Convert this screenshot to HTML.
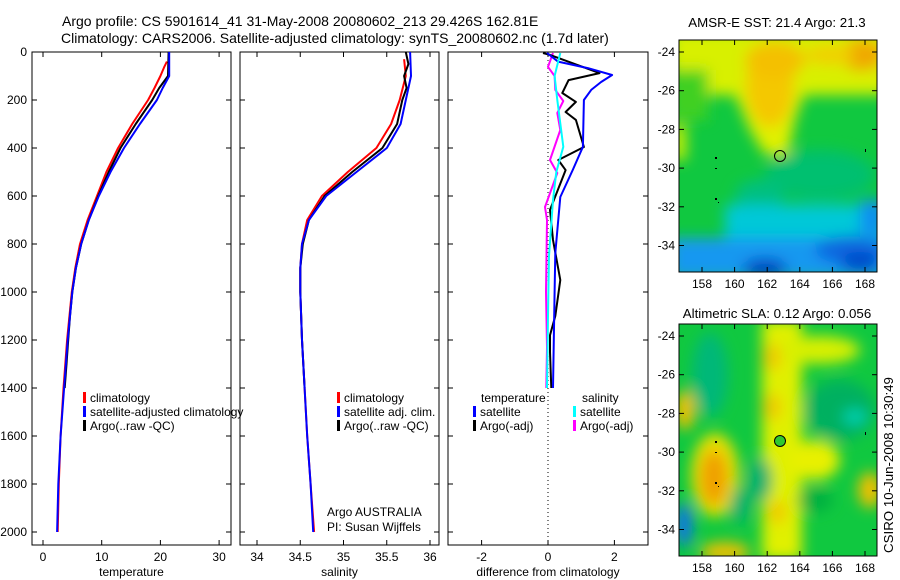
<!DOCTYPE html>
<html><head><meta charset="utf-8"><style>
html,body{margin:0;padding:0;background:#fff;}
svg{display:block;font-family:"Liberation Sans",sans-serif;}
text{font-size:12px;fill:#000;}
.big{font-size:14px;}
.mt{font-size:13.3px;}
</style></head><body>
<svg id="fig" width="900" height="580" viewBox="0 0 900 580">
<defs>
<filter id="blur1" x="-20%" y="-20%" width="140%" height="140%"><feGaussianBlur stdDeviation="7"/></filter>
<clipPath id="clipMap1"><rect x="679" y="40" width="198" height="232"/></clipPath>
<clipPath id="clipMap2"><rect x="679" y="324" width="198" height="232"/></clipPath>
</defs>
<text class="big" x="62" y="26">Argo profile: CS 5901614_41 31-May-2008 20080602_213 29.426S 162.81E</text>
<text class="big" x="61" y="43">Climatology: CARS2006. Satellite-adjusted climatology: synTS_20080602.nc (1.7d later)</text>

<!-- Map 1: SST -->
<g clip-path="url(#clipMap1)">
<rect x="679" y="40" width="198" height="232" fill="#10c840"/>
<g filter="url(#blur1)">
<rect x="670" y="30" width="220" height="65" fill="#d8f000"/>
<polygon points="700,90 735,95 750,130 765,155 788,155 795,120 805,92" fill="#e0f000"/>
<rect x="670" y="70" width="38" height="50" fill="#40d020"/>
<ellipse cx="770" cy="85" rx="24" ry="42" fill="#f4c800"/>
<ellipse cx="775" cy="60" rx="30" ry="18" fill="#f4c000"/>
<ellipse cx="862" cy="55" rx="22" ry="16" fill="#f0a800"/>
<ellipse cx="830" cy="55" rx="25" ry="10" fill="#f0d000"/>
<rect x="672" y="125" width="14" height="35" fill="#d0f000"/>
<ellipse cx="820" cy="175" rx="55" ry="25" fill="#00c070"/>
<ellipse cx="760" cy="195" rx="25" ry="15" fill="#00c080"/>
<rect x="725" y="205" width="160" height="35" fill="#00c8d8"/>
<rect x="670" y="238" width="220" height="40" fill="#1898f0"/>
<ellipse cx="765" cy="268" rx="22" ry="9" fill="#0040c0"/>
<ellipse cx="850" cy="250" rx="35" ry="14" fill="#0868e0"/>
<ellipse cx="860" cy="262" rx="20" ry="10" fill="#0048c8"/>
<rect x="860" y="200" width="25" height="35" fill="#1090f0"/>
</g>
<circle cx="780" cy="156" r="5.5" fill="none" stroke="#000" stroke-width="1"/>
<rect x="715" y="157" width="2" height="2" fill="#000"/>
<rect x="715" y="168" width="2" height="1" fill="#000"/>
<rect x="715" y="198" width="2" height="2" fill="#000"/>
<rect x="718" y="202" width="1" height="1" fill="#000"/>
<rect x="865" y="149" width="1" height="3" fill="#000"/>
</g>
<rect x="679" y="40" width="198" height="232" fill="none" stroke="#000"/>
<text class="mt" x="777" y="27" text-anchor="middle">AMSR-E SST: 21.4 Argo: 21.3</text>

<!-- Map 2: SLA -->
<g clip-path="url(#clipMap2)">
<rect x="679" y="324" width="198" height="232" fill="#10c840"/>
<g filter="url(#blur1)">
<rect x="762" y="320" width="40" height="240" fill="#e0f000"/>
<ellipse cx="772" cy="357" rx="9" ry="14" fill="#f0c800"/>
<ellipse cx="772" cy="407" rx="9" ry="14" fill="#f0c800"/>
<ellipse cx="777" cy="512" rx="9" ry="12" fill="#f0c800"/>
<ellipse cx="820" cy="350" rx="40" ry="14" fill="#d8f000"/>
<ellipse cx="815" cy="460" rx="25" ry="20" fill="#e8f000"/>
<ellipse cx="715" cy="475" rx="24" ry="42" fill="#e8e000"/>
<ellipse cx="714" cy="478" rx="14" ry="28" fill="#f0a000"/>
<ellipse cx="685" cy="410" rx="10" ry="20" fill="#f0c000"/>
<ellipse cx="870" cy="490" rx="12" ry="18" fill="#f0c000"/>
<ellipse cx="725" cy="552" rx="25" ry="10" fill="#f0c000"/>
<ellipse cx="710" cy="375" rx="18" ry="42" fill="#00b878"/>
<ellipse cx="840" cy="410" rx="35" ry="30" fill="#00b060"/>
<ellipse cx="855" cy="417" rx="12" ry="8" fill="#00d0b0"/>
<ellipse cx="760" cy="480" rx="12" ry="22" fill="#00b070"/>
<ellipse cx="740" cy="505" rx="10" ry="18" fill="#00b070"/>
<ellipse cx="815" cy="500" rx="18" ry="12" fill="#00b040"/>
<ellipse cx="684" cy="525" rx="8" ry="22" fill="#1070f0"/>
</g>
<circle cx="780" cy="441" r="5.5" fill="#30c830" stroke="#000" stroke-width="1"/>
<rect x="715" y="441" width="2" height="2" fill="#000"/>
<rect x="715" y="452" width="2" height="1" fill="#000"/>
<rect x="715" y="482" width="2" height="2" fill="#000"/>
<rect x="718" y="486" width="1" height="1" fill="#000"/>
<rect x="865" y="432" width="1" height="3" fill="#000"/>
</g>
<rect x="679" y="324" width="198" height="232" fill="none" stroke="#000"/>
<text class="mt" x="777" y="318" text-anchor="middle">Altimetric SLA: 0.12 Argo: 0.056</text>
<text class="mt" transform="translate(893,465) rotate(-90)" text-anchor="middle">CSIRO 10-Jun-2008 10:30:49</text>

<text x="327" y="516">Argo AUSTRALIA</text>
<text x="327" y="531">PI: Susan Wijffels</text>
</svg>
<script>
// ---- data ----
const depthTicks = [0,200,400,600,800,1000,1200,1400,1600,1800,2000];
const tempTicks = [0,10,20,30];
const salTicks = [34,34.5,35,35.5,36];
const salTickLabels = ["34","34.5","35","35.5","36"];
const diffTicks = [-2,0,2];

const tClimDepth = [40,60,100,150,200,300,400,500,600,700,800,900,1000,1200,1400,1600,1800,2000];
const tClimVal   = [21.1,20.7,20.0,19.0,17.9,15.2,12.8,10.8,9.2,7.6,6.3,5.5,4.9,4.1,3.5,3.0,2.7,2.5];
const tSatDepth  = [0,100,150,200,300,400,500,600,700,800,900,1000,1200,1400,1600,1800,2000];
const tSatVal    = [21.5,21.5,20.4,19.4,16.5,13.8,11.5,9.5,7.8,6.5,5.6,5.0,4.2,3.6,3.0,2.6,2.4];
const tArgoDepth = [0,100,150,200,300,400,500,600,700,800,900,1000,1100,1200,1300,1400];
const tArgoVal   = [21.4,21.3,19.8,18.6,15.8,13.2,11.2,9.4,7.8,6.5,5.6,5.0,4.6,4.3,4.0,3.7];

const sClimDepth = [30,100,200,300,400,500,600,700,800,900,1000,1200,1400,1600,1800,2000];
const sClimVal   = [35.70,35.72,35.65,35.55,35.38,35.05,34.75,34.58,34.52,34.50,34.50,34.52,34.55,34.58,34.62,34.66];
const sSatDepth  = [0,100,150,200,300,400,500,600,700,800,900,1000,1200,1400,1600,1800,2000];
const sSatVal    = [35.77,35.78,35.75,35.72,35.66,35.50,35.15,34.80,34.60,34.52,34.50,34.50,34.52,34.55,34.58,34.62,34.65];
const sArgoDepth = [0,50,100,150,200,300,400,500,600,700,800,900,1000,1200,1400];
const sArgoVal   = [35.72,35.75,35.70,35.73,35.68,35.62,35.45,35.10,34.78,34.60,34.53,34.50,34.50,34.52,34.55];

const dTSatDepth = [4,40,67,96,125,158,200,395,490,604,838,1000,1400];
const dTSatVal   = [-0.03,0.3,1.2,1.93,1.6,1.3,1.08,1.05,0.75,0.37,0.22,0.2,0.15];
const dTArgoDepth = [4,12,88,117,171,208,250,283,396,450,492,658,783,950,1100,1180,1250,1400];
const dTArgoVal   = [-0.15,0.06,1.55,0.62,0.43,0.84,0.53,0.84,1.08,0.31,0.53,0.06,0.15,0.37,0.22,0.06,0.06,0.1];
const dSSatDepth = [4,100,200,395,500,617,850,1100,1400];
const dSSatVal   = [0.37,0.2,0.28,0.46,0.25,0.15,0.03,0,-0.03];
const dSArgoDepth = [4,62,100,158,204,254,325,450,504,646,700,1000,1230,1400];
const dSArgoVal   = [0.15,0,0.2,0.22,0.46,0.28,0.37,0.06,0.28,-0.09,-0.03,-0.06,-0.03,-0.05];

const lonTicks = [158,160,162,164,166,168];
const latTicks = [-24,-26,-28,-30,-32,-34];

// ---- helpers ----
const NS = "http://www.w3.org/2000/svg";
const svg = document.getElementById("fig");
function mk(tag, attrs){ const e=document.createElementNS(NS,tag); for(const k in attrs) e.setAttribute(k,attrs[k]); return e; }
const yD = d => 52 + d*0.24;
const panels = [
  {x0:32, x1:231, fx:v=>43+v*5.87, ticks:tempTicks, labels:tempTicks.map(String), xlabel:"temperature", name:"temperature-panel"},
  {x0:240, x1:439, fx:v=>257+(v-34)*86.5, ticks:salTicks, labels:salTickLabels, xlabel:"salinity", name:"salinity-panel"},
  {x0:448, x1:648, fx:v=>548+v*33.2, ticks:diffTicks, labels:diffTicks.map(String), xlabel:"difference from climatology", name:"difference-panel"}
];
panels.forEach((p,i)=>{
  const g = mk("g",{});
  
  
  svg.appendChild(g);
  const frame = mk("rect",{x:p.x0,y:52,width:p.x1-p.x0,height:493,fill:"none",stroke:"#000"});
  
  
  g.appendChild(frame);
  depthTicks.forEach(d=>{
    const y=yD(d);
    g.appendChild(mk("line",{x1:p.x0,x2:p.x0+5,y1:y,y2:y,stroke:"#000"}));
    g.appendChild(mk("line",{x1:p.x1-5,x2:p.x1,y1:y,y2:y,stroke:"#000"}));
    if(i===0){
      const t=mk("text",{x:27,y:y+4,"text-anchor":"end"});
      t.textContent=String(d);
      
      
      svg.appendChild(t);
    }
  });
  p.ticks.forEach((v,k)=>{
    const x=p.fx(v);
    g.appendChild(mk("line",{x1:x,x2:x,y1:52,y2:57,stroke:"#000"}));
    g.appendChild(mk("line",{x1:x,x2:x,y1:540,y2:545,stroke:"#000"}));
    const t=mk("text",{x:x,y:561,"text-anchor":"middle"});
    t.textContent=p.labels[k];
    
    
    g.appendChild(t);
  });
  const xl=mk("text",{x:(p.x0+p.x1)/2,y:576,"text-anchor":"middle"});
  xl.textContent=p.xlabel;
  
  
  g.appendChild(xl);
});
function drawLine(depths, vals, fx, color, name, w){
  const pts = depths.map((d,k)=>fx(vals[k]).toFixed(1)+","+yD(d).toFixed(1)).join(" ");
  const pl = mk("polyline",{points:pts,fill:"none",stroke:color,"stroke-width":w||2,"stroke-linejoin":"round"});
  
  
  svg.appendChild(pl);
}
const zl = mk("line",{x1:548,x2:548,y1:52,y2:545,stroke:"#000","stroke-dasharray":"1,3"});


svg.appendChild(zl);

drawLine(tClimDepth,tClimVal,panels[0].fx,"#ff0000","temp-climatology-line");
drawLine(tArgoDepth,tArgoVal,panels[0].fx,"#000000","temp-argo-line");
drawLine(tSatDepth,tSatVal,panels[0].fx,"#0000ff","temp-satellite-line");
drawLine(sClimDepth,sClimVal,panels[1].fx,"#ff0000","sal-climatology-line");
drawLine(sArgoDepth,sArgoVal,panels[1].fx,"#000000","sal-argo-line");
drawLine(sSatDepth,sSatVal,panels[1].fx,"#0000ff","sal-satellite-line");
drawLine(dSArgoDepth,dSArgoVal,panels[2].fx,"#ff00ff","sal-diff-argo-line");
drawLine(dTArgoDepth,dTArgoVal,panels[2].fx,"#000000","temp-diff-argo-line");
drawLine(dTSatDepth,dTSatVal,panels[2].fx,"#0000ff","temp-diff-satellite-line");
drawLine(dSSatDepth,dSSatVal,panels[2].fx,"#00ffff","sal-diff-satellite-line");

function legendEntry(x,y,color,label){
  const r=mk("rect",{x:x,y:y-10,width:3,height:11,fill:color});
  
  
  svg.appendChild(r);
  const t=mk("text",{x:x+7,y:y});
  t.textContent=label;
  
  
  svg.appendChild(t);
}
legendEntry(83,402,"#ff0000","climatology");
legendEntry(83,416,"#0000ff","satellite-adjusted climatology");
legendEntry(83,430,"#000000","Argo(..raw -QC)");
legendEntry(337,402,"#ff0000","climatology");
legendEntry(337,416,"#0000ff","satellite adj. clim.");
legendEntry(337,430,"#000000","Argo(..raw -QC)");
const lt1=mk("text",{x:481,y:402}); lt1.textContent="temperature";


svg.appendChild(lt1);
const lt2=mk("text",{x:582,y:402}); lt2.textContent="salinity";


svg.appendChild(lt2);
legendEntry(473,416,"#0000ff","satellite");
legendEntry(473,430,"#000000","Argo(-adj)");
legendEntry(573,416,"#00ffff","satellite");
legendEntry(573,430,"#ff00ff","Argo(-adj)");

// map axes
const mapFx = lon => 702 + (lon-158)*16.3;
[{top:40,bot:272,lat0:52,name:"sst"},{top:324,bot:556,lat0:336,name:"sla"}].forEach(m=>{
  const fy = lat => m.lat0 + (-24-lat)*19.35;
  latTicks.forEach(l=>{
    const y=fy(l);
    svg.appendChild(mk("line",{x1:679,x2:684,y1:y,y2:y,stroke:"#000"}));
    svg.appendChild(mk("line",{x1:872,x2:877,y1:y,y2:y,stroke:"#000"}));
    const t=mk("text",{x:675,y:y+4,"text-anchor":"end"});
    t.textContent=String(l);
    
    
    svg.appendChild(t);
  });
  lonTicks.forEach(l=>{
    const x=mapFx(l);
    svg.appendChild(mk("line",{x1:x,x2:x,y1:m.top,y2:m.top+5,stroke:"#000"}));
    svg.appendChild(mk("line",{x1:x,x2:x,y1:m.bot-5,y2:m.bot,stroke:"#000"}));
    const t=mk("text",{x:x,y:m.bot+16,"text-anchor":"middle"});
    t.textContent=String(l);
    
    
    svg.appendChild(t);
  });
});
</script>
</body></html>
